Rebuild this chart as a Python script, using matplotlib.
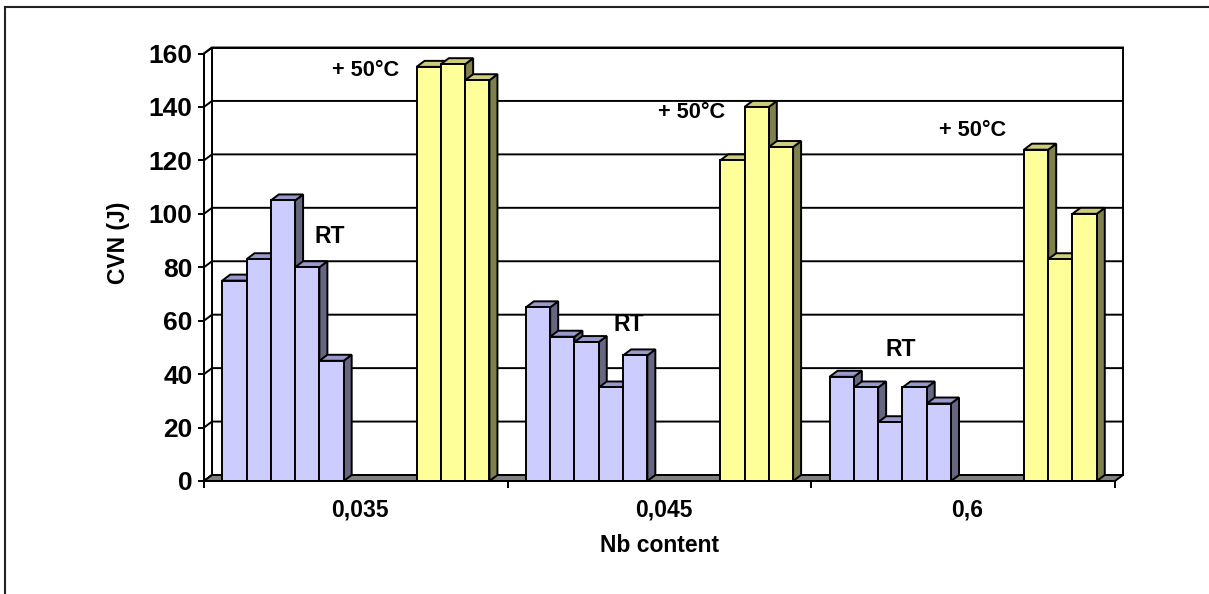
import matplotlib
matplotlib.use("Agg")
import matplotlib.pyplot as plt
from matplotlib.patches import Polygon
from matplotlib.lines import Line2D
import matplotlib.transforms as mtransforms

# Charpy impact energy (J) by Nb content
categories = ["0,035", "0,045", "0,6"]
rt_035 = [75, 83, 105, 80, 45]
rt_045 = [65, 54, 52, 35, 47]
rt_06 = [39, 35, 22, 35, 29]
hot_035 = [155, 156, 150]
hot_045 = [120, 140, 125]
hot_06 = [124, 83, 100]
y_ticks = [0, 20, 40, 60, 80, 100, 120, 140, 160]

rt_groups = [rt_035, rt_045, rt_06]
hot_groups = [hot_035, hot_045, hot_06]

FONT = "Liberation Sans"
plt.rcParams["font.family"] = [FONT, "DejaVu Sans"]
plt.rcParams["font.weight"] = "bold"

W, H = 1209, 594
fig = plt.figure(figsize=(W / 100, H / 100), dpi=100)
fig.patch.set_facecolor("white")

# front plane of the 3-D box in pixel coordinates
x_left, x_right = 204, 1115
y_zero, y_top = 481, 53.5
ax = fig.add_axes([x_left / W, (H - y_zero) / H,
                   (x_right - x_left) / W, (y_zero - y_top) / H])
ax.set_xlim(0, 3)
ax.set_ylim(0, 160)
ax.patch.set_alpha(0)

# depth offset of the 3-D effect (8 px right, 6 px up)
DX = 8 / ((x_right - x_left) / 3)
DY = 6 * 160 / (y_zero - y_top)

LW = 1.4
EDGE = "black"

# walls and floor
ax.add_patch(Polygon([(DX, DY), (3 + DX, DY), (3 + DX, 160 + DY), (DX, 160 + DY)],
                     closed=True, facecolor="white", edgecolor=EDGE, lw=LW,
                     zorder=0.5, clip_on=False))
ax.add_patch(Polygon([(0, 0), (DX, DY), (DX, 160 + DY), (0, 160)],
                     closed=True, facecolor="white", edgecolor=EDGE, lw=LW,
                     zorder=0.6, clip_on=False))
for v in y_ticks:
    ax.add_line(Line2D([0, DX, 3 + DX], [v, v + DY, v + DY], color=EDGE, lw=LW,
                       zorder=0.7, clip_on=False))
ax.add_patch(Polygon([(0, 0), (3, 0), (3 + DX, DY), (DX, DY)],
                     closed=True, facecolor="#808080", edgecolor=EDGE, lw=LW,
                     zorder=0.8, clip_on=False))

blue = ("#CCCCFF", "#9999CC", "#666680")
yellow = ("#FFFF99", "#CCCC7A", "#80804D")

SLOT = 0.08
MARGIN = 0.06
z = 3.0


def draw_bar(x0, v, colors):
    global z
    front, top, side = colors
    ax.add_patch(Polygon([(x0 + SLOT, 0), (x0 + SLOT + DX, DY),
                          (x0 + SLOT + DX, v + DY), (x0 + SLOT, v)],
                         closed=True, facecolor=side, edgecolor=EDGE, lw=LW,
                         zorder=z, clip_on=False))
    ax.add_patch(Polygon([(x0, v), (x0 + SLOT, v), (x0 + SLOT + DX, v + DY),
                          (x0 + DX, v + DY)],
                         closed=True, facecolor=top, edgecolor=EDGE, lw=LW,
                         zorder=z, clip_on=False))
    ax.bar(x0, v, width=SLOT, align="edge", color=front, edgecolor=EDGE,
           linewidth=LW, zorder=z + 0.5, clip_on=False)
    z += 1


for i in range(len(categories)):
    for j, v in enumerate(rt_groups[i]):
        draw_bar(i + MARGIN + j * SLOT, v, blue)
    for k, v in enumerate(hot_groups[i]):
        draw_bar(i + MARGIN + (8 + k) * SLOT, v, yellow)

# axes styling
for s in ("top", "right"):
    ax.spines[s].set_visible(False)
for s in ("left", "bottom"):
    ax.spines[s].set_linewidth(LW)
    ax.spines[s].set_color(EDGE)
    ax.spines[s].set_zorder(50)

ax.set_yticks(y_ticks)
ax.set_yticklabels([str(t) for t in y_ticks])
ax.tick_params(axis="y", direction="out", length=4.3, width=LW, pad=3.8,
               labelsize=19)
for lab in ax.get_yticklabels():
    lab.set_fontweight("bold")
ax.set_xticks([0, 1, 2, 3])
ax.set_xticklabels([])
ax.tick_params(axis="x", direction="out", length=5, width=LW)

blend = mtransforms.blended_transform_factory(ax.transData, fig.transFigure)
for i, name in enumerate(categories):
    ax.text(i + 0.5 + DX / 2, 1 - 510 / H, name, transform=blend, ha="center",
            va="center", fontsize=16.5, fontweight="bold")

fig.text(660 / W, 1 - 546 / H, "Nb content", ha="center", va="center",
         fontsize=16.5, fontweight="bold")
fig.text(118 / W, 1 - 243 / H, "CVN (J)", ha="center", va="center",
         rotation=90, fontsize=16.5, fontweight="bold")

# series annotations
rt_label_pos = [(0.415, 91.6), (1.400, 58.5), (2.295, 49.1)]
hot_label_pos = [(0.533, 153.7), (1.607, 138.0), (2.531, 131.3)]
for (x, y) in rt_label_pos:
    ax.text(x, y, "RT", ha="center", va="center", fontsize=16.5,
            fontweight="bold", zorder=100)
for (x, y) in hot_label_pos:
    ax.text(x, y, "+ 50°C", ha="center", va="center", fontsize=15.7,
            fontweight="bold", zorder=100)

# outer chart frame (top and left edges)
fx = 5 / W
fy = 1 - 7 / H
fig.add_artist(Line2D([fx, 1.01], [fy, fy], transform=fig.transFigure,
                      color="#222222", lw=1.5))
fig.add_artist(Line2D([fx, fx], [-0.01, fy], transform=fig.transFigure,
                      color="#222222", lw=1.5))

fig.savefig("out.png", dpi=100)
